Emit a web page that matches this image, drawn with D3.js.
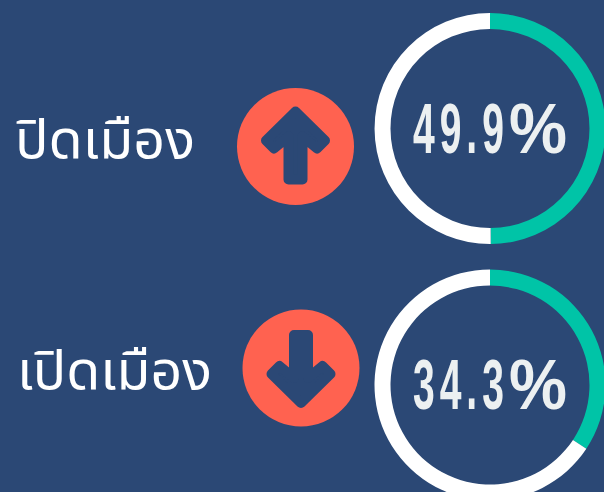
<!DOCTYPE html>
<html>
<head>
<meta charset="utf-8">
<script src="https://cdn.jsdelivr.net/npm/d3@7"></script>
<style>
  html, body { margin: 0; padding: 0; background: #2b4875; overflow: hidden; }
  svg { display: block; }
</style>
</head>
<body>
<svg id="chart"></svg>
<script>
// Values
const labels = ["ปิดเมือง", "เปิดเมือง"];
const percents = [49.9, 34.3];
const directions = ["up", "down"];

const width = 604;
const height = 492;

const svg = d3.select("#chart")
    .attr("width", width)
    .attr("height", height);

// Per row layout
const ringCenters = [[490, 128.5], [490, 385]];
const badgeCenters = [[295.5, 146.5], [301, 368]];
const labelPos = [[15, 158], [17, 389]];
const labelSizes = [54, 54];
const labelWidths = [180, 195];

const pie = d3.pie().sort(null).value(d => d);
const arc = d3.arc().innerRadius(99.5).outerRadius(115.5);

// Arrow icon, pointing up, drawn around the centre of the badge
const arrowShape = [[0, -35], [29.5, -6], [21.5, 2], [7, -10], [7, 33], [-7, 33], [-7, -10], [-21.5, 2], [-29.5, -6]];
const arrowLine = d3.line().curve(d3.curveLinearClosed);

// The original number font is condensed, so squeeze the bold font
const squeeze = 0.55;

percents.forEach((p, i) => {
    const ring = svg.append("g")
        .attr("transform", `translate(${ringCenters[i]})`);

    ring.selectAll("path")
        .data(pie([p, 100 - p]))
        .enter()
        .append("path")
        .attr("d", arc)
        .attr("fill", (d, j) => j === 0 ? "#00c4a7" : "#ffffff");

    const value = ring.append("text")
        .attr("transform", `scale(${squeeze},1)`)
        .attr("x", -77 / squeeze)
        .attr("y", i === 0 ? 24.5 : 24)
        .attr("font-family", "'Liberation Sans', sans-serif")
        .attr("font-weight", 700)
        .attr("font-size", 71)
        .attr("fill", "#ecf0f1");

    value.append("tspan")
        .attr("letter-spacing", 9)
        .text(p.toFixed(1));

    // the percent sign is wider than the digits
    value.append("tspan")
        .attr("x", 19 / squeeze)
        .attr("textLength", 58 / squeeze)
        .attr("lengthAdjust", "spacingAndGlyphs")
        .text("%");

    const badge = svg.append("g")
        .attr("transform", `translate(${badgeCenters[i]})`);

    badge.append("circle")
        .attr("r", 58.5)
        .attr("fill", "#ff6250");

    badge.append("path")
        .attr("d", arrowLine(arrowShape))
        .attr("transform", directions[i] === "up" ? null : "rotate(180)")
        .attr("fill", "#2b4875")
        .attr("stroke", "#2b4875")
        .attr("stroke-width", 10)
        .attr("stroke-linejoin", "round");

    svg.append("text")
        .attr("x", labelPos[i][0])
        .attr("y", labelPos[i][1])
        .attr("font-family", "'Noto Sans', 'Noto Sans Thai', sans-serif")
        .attr("font-size", labelSizes[i])
        .attr("textLength", labelWidths[i])
        .attr("lengthAdjust", "spacingAndGlyphs")
        .attr("fill", "#ffffff")
        .text(labels[i]);
});
</script>
</body>
</html>
